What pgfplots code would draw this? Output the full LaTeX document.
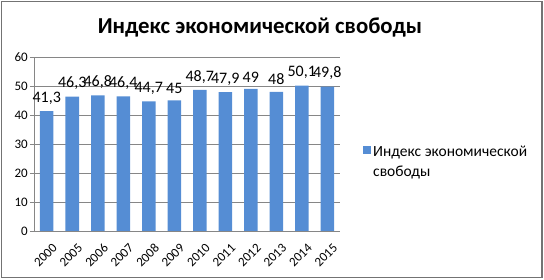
\documentclass[border=0pt]{standalone}
\usepackage{pgfplots}
\pgfplotsset{compat=1.18}
\usepackage{fontspec}
\setmainfont{Carlito}
\definecolor{barblue}{RGB}{85,141,212}
\definecolor{gridgray}{RGB}{134,134,134}
\begin{document}
\begin{tikzpicture}[x=1pt,y=1pt]
\path (0,0) rectangle (544,280);
\draw[gray!90!black, line width=1pt] (1.5,2) rectangle (542,278.5);
\draw[gray!90!black, line width=1pt] (2,2.8) -- (541.2,2.8) -- (541.2,278);
\node[font=\fontsize{22.8}{26}\selectfont\bfseries] at (260,253) {Индекс экономической свободы};
\begin{axis}[
  at={(34pt,49pt)}, anchor=south west,
  scale only axis, width=306pt, height=174pt,
  xmin=-0.5, xmax=11.5, ymin=0, ymax=60,
  ytick={0,10,...,60},
  xtick={0,...,11},
  xticklabels={2000,2005,2006,2007,2008,2009,2010,2011,2012,2013,2014,2015},
  x tick label style={rotate=45, anchor=north east, font=\fontsize{13}{15}\selectfont, xshift=-1pt, yshift=-8pt, inner sep=1pt},
  y tick label style={font=\fontsize{13}{15}\selectfont, inner sep=2pt},
  major x tick style={draw=none},
  extra x ticks={-0.5,0.5,...,11.5},
  extra x tick labels={},
  extra x tick style={major tick length=4pt, tick style={draw=gridgray}, grid=none},
  ymajorgrids, grid style={gridgray, line width=0.6pt},
  axis x line*=bottom, axis y line*=left,
  axis line style={gridgray, line width=0.6pt, -},
  y tick style={draw=gridgray},
  tick align=outside, major tick length=4pt,
  /pgf/number format/assume math mode=true,
  /pgf/number format/use comma,
  ybar, bar width=13.5pt,
  nodes near coords,
  every node near coord/.append style={font=\fontsize{16}{18}\selectfont, black, inner sep=1.5pt, yshift=5pt},
  legend style={draw=none, fill=none, at={(327pt,89pt)}, anchor=north west, font=\fontsize{15.5}{20}\selectfont, legend cell align=left, cells={align=left}, inner sep=2pt},
  legend image code/.code={\path (0pt,0pt) (8pt,0pt); \fill[barblue] (0pt,8pt) rectangle (8pt,16pt);},
]
\addplot[fill=barblue, draw=none] coordinates {
(0,41.3) (1,46.3) (2,46.8) (3,46.4) (4,44.7) (5,45)
(6,48.7) (7,47.9) (8,49) (9,48) (10,50.1) (11,49.8)};
\addlegendentry{Индекс экономической\\свободы}
\end{axis}
\end{tikzpicture}
\end{document}
